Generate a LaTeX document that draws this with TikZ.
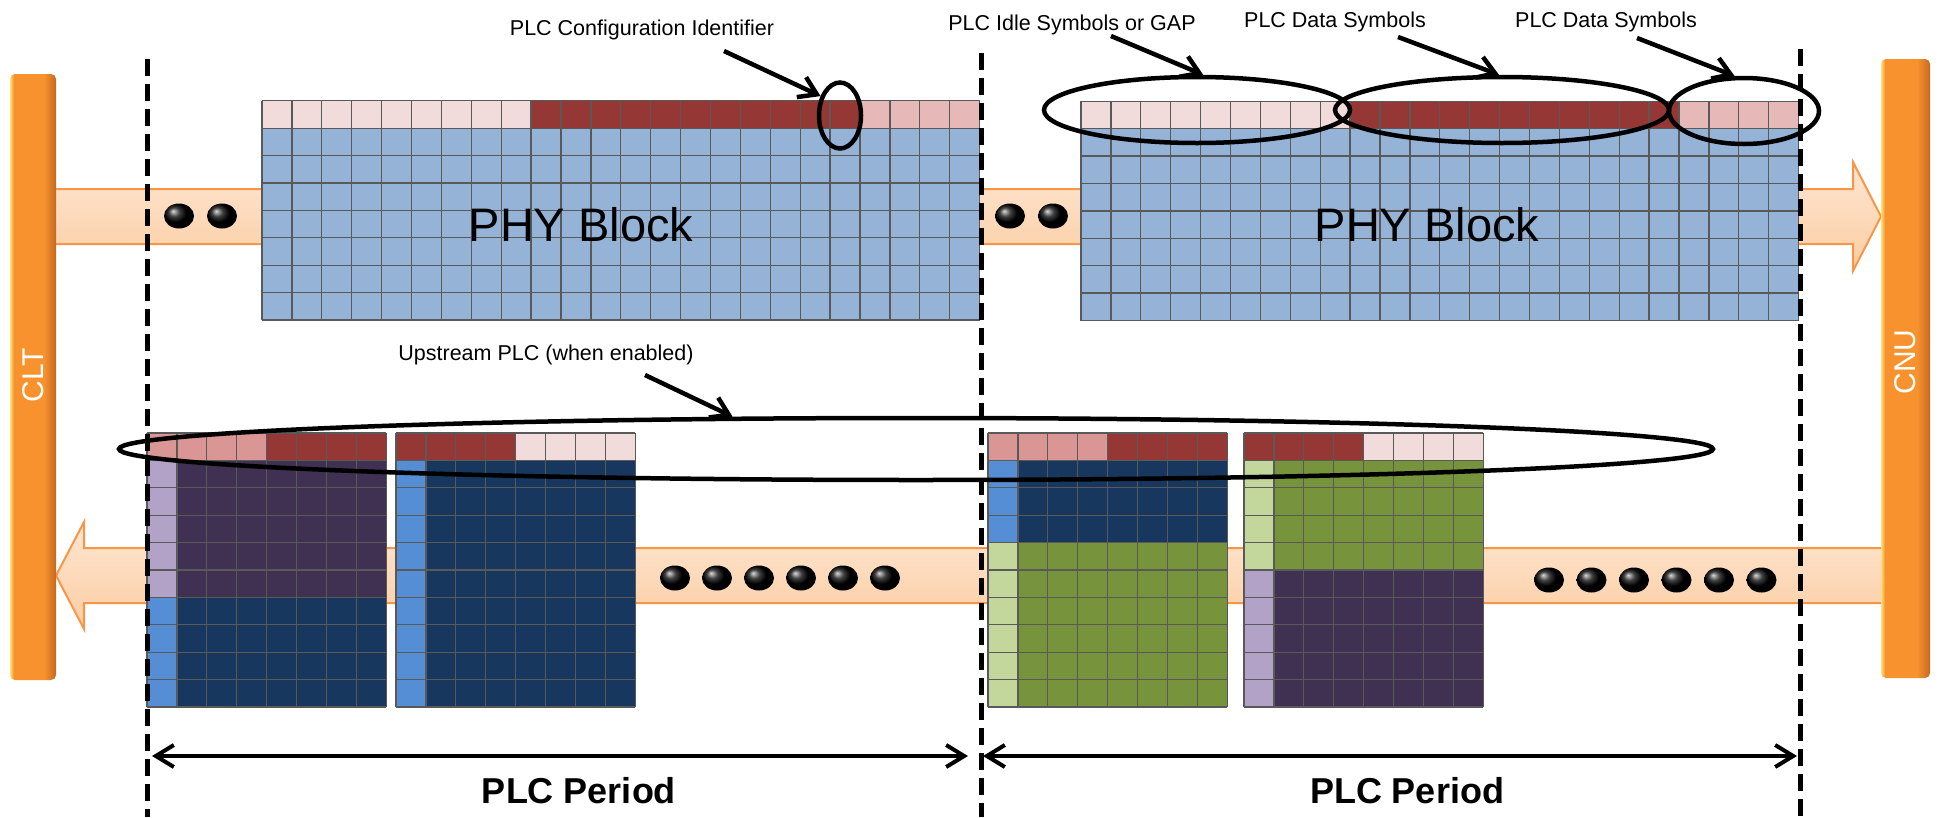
\documentclass[tikz,border=0pt]{standalone}
\usepackage{fontspec}
\setmainfont{Liberation Sans}
\usetikzlibrary{arrows.meta,shapes.geometric}

\definecolor{idlepink}{HTML}{F2DCDB}
\definecolor{datared}{HTML}{953735}
\definecolor{cfgpink}{HTML}{E6B9B8}
\definecolor{rosepink}{HTML}{D99694}
\definecolor{phyblue}{HTML}{95B3D7}
\definecolor{navy}{HTML}{17375E}
\definecolor{plum}{HTML}{403152}
\definecolor{skyblue}{HTML}{558ED5}
\definecolor{lilac}{HTML}{B3A2C7}
\definecolor{olive}{HTML}{77933C}
\definecolor{sage}{HTML}{C3D69B}
\definecolor{gridgray}{HTML}{595959}
\definecolor{bandedge}{HTML}{F79646}
\definecolor{bandtop}{HTML}{FDE6D2}
\definecolor{bandbot}{HTML}{FCCDA2}
\definecolor{barlite}{HTML}{FFE27A}
\definecolor{barmid}{HTML}{F7922F}
\definecolor{bardark}{HTML}{C4691F}

\pgfdeclarehorizontalshading{barshade}{100bp}{color(0bp)=(barlite); color(25bp)=(barlite); color(29bp)=(barmid); color(62bp)=(barmid); color(75bp)=(bardark); color(100bp)=(bardark)}

\begin{document}
\begin{tikzpicture}[x=1pt,y=-1pt,
  cellgrid/.style={draw=gridgray,line width=1.3pt,step=1},
  band/.style={draw=bandedge,line width=2pt,top color=bandtop,bottom color=bandbot},
  bar/.style={shading=barshade,rounded corners=5pt},
  dot/.style={ellipse,minimum width=30pt,minimum height=25pt,inner sep=0pt,ball color=black},
  ring/.style={draw,ellipse,line width=4.5pt,inner sep=0pt},
  callout/.style={line width=4.5pt,-{Straight Barb[length=17pt,width=22pt]}},
  period/.style={line width=4pt,{Straight Barb[length=18pt,width=22pt]}-{Straight Barb[length=18pt,width=22pt]}},
  divider/.style={line width=5pt,dash pattern=on 17pt off 8pt},
  lbl/.style={font=\fontsize{21.5}{24}\selectfont,anchor=base}]
\useasboundingbox (0,0) rectangle (1939,817);

% downstream and upstream bands
\path[band] (50,189) -- (1853,189) -- (1853,162) -- (1881,216.5) -- (1853,271) -- (1853,244) -- (50,244) -- cycle;
\path[band] (1886,548) -- (84,548) -- (84,522) -- (56,575.5) -- (84,629) -- (84,603) -- (1886,603) -- cycle;

% PHY blocks
\begin{scope}[shift={(262,320)},x=29.9pt,y=27.4pt]
  \fill[phyblue] (0,0) rectangle (24,7);
  \fill[idlepink] (0,7) rectangle (9,8);
  \fill[datared] (9,7) rectangle (20,8);
  \fill[cfgpink] (20,7) rectangle (24,8);
  \draw[cellgrid] (0,0) grid (24,8);
\end{scope}
\begin{scope}[shift={(1081,320.5)},x=29.9pt,y=27.4pt]
  \fill[phyblue] (0,0) rectangle (24,7);
  \fill[idlepink] (0,7) rectangle (9,8);
  \fill[datared] (9,7) rectangle (20,8);
  \fill[cfgpink] (20,7) rectangle (24,8);
  \draw[cellgrid] (0,0) grid (24,8);
\end{scope}

% upstream blocks
\begin{scope}[shift={(147,707)},x=29.9pt,y=27.4pt]
  \fill[navy] (0,0) rectangle (8,4);
  \fill[plum] (0,4) rectangle (8,9);
  \fill[skyblue] (0,0) rectangle (1,4);
  \fill[lilac] (0,4) rectangle (1,9);
  \fill[rosepink] (0,9) rectangle (4,10);
  \fill[datared] (4,9) rectangle (8,10);
  \draw[cellgrid] (0,0) grid (8,10);
\end{scope}
\begin{scope}[shift={(396,707)},x=29.9pt,y=27.4pt]
  \fill[navy] (0,0) rectangle (8,9);
  \fill[skyblue] (0,0) rectangle (1,9);
  \fill[datared] (0,9) rectangle (4,10);
  \fill[idlepink] (4,9) rectangle (8,10);
  \draw[cellgrid] (0,0) grid (8,10);
\end{scope}
\begin{scope}[shift={(988,707)},x=29.9pt,y=27.4pt]
  \fill[olive] (0,0) rectangle (8,6);
  \fill[navy] (0,6) rectangle (8,9);
  \fill[sage] (0,0) rectangle (1,6);
  \fill[skyblue] (0,6) rectangle (1,9);
  \fill[rosepink] (0,9) rectangle (4,10);
  \fill[datared] (4,9) rectangle (8,10);
  \draw[cellgrid] (0,0) grid (8,10);
\end{scope}
\begin{scope}[shift={(1244,707)},x=29.9pt,y=27.4pt]
  \fill[plum] (0,0) rectangle (8,5);
  \fill[olive] (0,5) rectangle (8,9);
  \fill[lilac] (0,0) rectangle (1,5);
  \fill[sage] (0,5) rectangle (1,9);
  \fill[datared] (0,9) rectangle (4,10);
  \fill[idlepink] (4,9) rectangle (8,10);
  \draw[cellgrid] (0,0) grid (8,10);
\end{scope}

% CLT and CNU
\shade[bar] (10,74) rectangle (56,680);
\shade[bar] (1881,59) rectangle (1930,678);
\node[rotate=90,text=white,font=\fontsize{30}{32}\selectfont] (clt) at (33,375) {CLT};
\node[rotate=90,text=white,font=\fontsize{30}{32}\selectfont] (cnu) at (1905.5,362) {CNU};

% dots
\foreach \x [count=\i] in {179,222} \node[dot] (da\i) at (\x,216) {};
\foreach \x [count=\i] in {1010,1053} \node[dot] (db\i) at (\x,216) {};
\foreach \i in {0,...,5} \node[dot] (ua\i) at (675+42*\i,578) {};
\foreach \i in {0,...,5} \node[dot] (ub\i) at (1549+42.5*\i,580) {};

% period boundaries
\draw[divider] (147,59) -- (147,817);
\draw[divider] (981,53) -- (981,817);
\draw[divider] (1800,49) -- (1800,817);

% rings
\node[ring,minimum width=42pt,minimum height=66pt] (cfgring) at (840,115.5) {};
\node[ring,minimum width=306pt,minimum height=66pt] (idlering) at (1197,110) {};
\node[ring,minimum width=334pt,minimum height=66pt] (dataring) at (1502,110) {};
\node[ring,minimum width=150pt,minimum height=66pt] (tailring) at (1744,111) {};
\node[ring,minimum width=1594pt,minimum height=62pt] (upring) at (916,449) {};

% labels
\node[lbl] (cfglbl) at (642,35) {PLC Configuration Identifier};
\node[lbl] (idlelbl) at (1072,30) {PLC Idle Symbols or GAP};
\node[lbl] (datalbl) at (1335,27.5) {PLC Data Symbols};
\node[lbl] (taillbl) at (1606,27.5) {PLC Data Symbols};
\node[lbl] (uplbl) at (546,360) {Upstream PLC (when enabled)};
\node[font=\fontsize{47}{50}\selectfont,anchor=base] (phya) at (581,241.7) {PHY Block};
\node[font=\fontsize{47}{50}\selectfont,anchor=base] (phyb) at (1427,241.7) {PHY Block};

\coordinate (cfgtail) at (724,51);
\coordinate (idletail) at (1111,36);
\coordinate (datatail) at (1398,37);
\coordinate (tailtail) at (1637,38);
\coordinate (uptail) at (645,375);
\draw[callout] (cfgtail) -- (cfgring.135);
\draw[callout] (idletail) -- (idlering.80);
\draw[callout] (datatail) -- (dataring.95);
\draw[callout] (tailtail) -- (tailring.105);
\draw[callout] (uptail) -- (upring.170);

% PLC periods
\coordinate (pa1) at (152,756);
\coordinate (pa2) at (968,756);
\coordinate (pb1) at (983,756);
\coordinate (pb2) at (1797,756);
\draw[period] (pa1) -- (pa2);
\draw[period] (pb1) -- (pb2);
\node[font=\bfseries\fontsize{36}{40}\selectfont,anchor=base] (pera) at (579,803) {PLC Period};
\node[font=\bfseries\fontsize{36}{40}\selectfont,anchor=base] (perb) at (1407,803) {PLC Period};
\end{tikzpicture}
\end{document}
